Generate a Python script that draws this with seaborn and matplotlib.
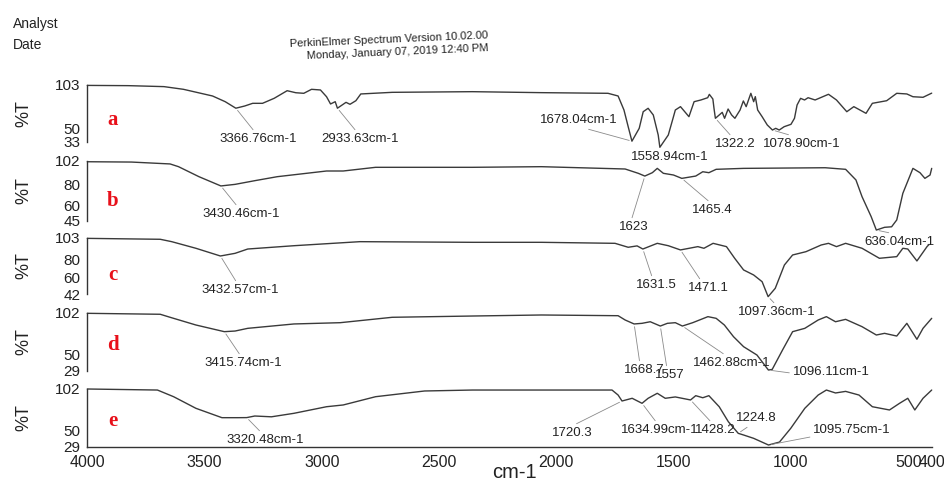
import matplotlib
matplotlib.use("Agg")
import matplotlib.pyplot as plt
import pandas as pd
import seaborn as sns

sns.set_style("white")
plt.rcParams["font.family"] = ["Liberation Sans", "DejaVu Sans"]

W, H = 945, 488

# ---- FT-IR spectra: wavenumber (cm-1) and transmittance (%T) ----
wn_a = [4000, 3825, 3673, 3590, 3466, 3412, 3366.76, 3329, 3295, 3253, 3203, 3148, 3111, 3077,
        3044, 3006, 2980, 2963, 2943, 2933.63, 2897, 2880, 2855, 2834, 2700, 2358, 2064, 1780,
        1737, 1712, 1694, 1678.04, 1647, 1630, 1609, 1587, 1566, 1558.94, 1523, 1501, 1493, 1471,
        1435, 1413, 1384, 1355, 1348, 1333, 1328, 1322.2, 1293, 1283, 1268, 1253, 1239, 1217,
        1203, 1191, 1181, 1171, 1159, 1152, 1142, 1123, 1101, 1078.90, 1065, 1050, 1029, 1000,
        985, 974, 959, 942, 927, 897, 840, 806, 762, 732, 680, 653, 592, 549, 506, 480, 437, 400]
t_a = [102.5, 102.2, 101.0, 97.7, 89.5, 82.5, 74.5, 77.2, 80.5, 80.5, 86.7, 96.0, 93.5, 92.8,
       97.7, 96.9, 88.6, 79.7, 82.5, 74.5, 81.7, 79.3, 83.7, 92.0, 94.0, 94.8, 93.6, 92.8,
       89.5, 72.3, 51.8, 34.0, 49.8, 70.2, 74.4, 66.2, 41.6, 26.5, 41.6, 64.0, 72.3, 76.4,
       64.1, 82.5, 84.6, 87.4, 91.5, 85.8, 74.0, 62.1, 69.4, 62.1, 73.5, 66.2, 62.1, 72.3,
       83.4, 76.4, 84.6, 92.8, 82.5, 88.7, 72.3, 64.1, 53.9, 47.7, 49.8, 47.7, 51.8, 54.7,
       62.1, 78.4, 86.6, 84.6, 87.4, 84.6, 91.6, 84.6, 70.2, 76.4, 68.2, 80.5, 83.7, 92.8,
       92.0, 88.6, 87.9, 93.0]

wn_b = [4000, 3812, 3647, 3611, 3524, 3430.46, 3370, 3286, 3190, 2980, 2909, 2771, 2358, 2064,
        1707, 1651, 1623, 1591, 1570, 1544, 1501, 1465.4, 1406, 1376, 1350, 1319, 1202, 854,
        767, 723, 697, 658, 636.04, 601, 571, 549, 523, 480, 450, 429, 407, 400]
t_b = [101.3, 101.0, 99.2, 96.6, 87.1, 78.3, 79.8, 83.3, 87.1, 92.5, 92.5, 96.0, 96.0, 96.6,
       94.4, 90.3, 87.7, 90.9, 95.0, 90.3, 88.7, 85.5, 87.7, 91.8, 90.9, 94.1, 95.0, 95.6,
       94.1, 84.0, 68.1, 49.1, 36.4, 39.0, 39.5, 46.0, 71.3, 95.0, 90.9, 85.5, 88.7, 95.0]

wn_c = [4000, 3689, 3640, 3537, 3432.57, 3370, 3316, 3119, 2838, 2358, 2064, 1750, 1694, 1656,
        1631.5, 1570, 1523, 1471.1, 1397, 1371, 1332, 1275, 1240, 1202, 1159, 1123, 1097.36,
        1067, 1028, 993, 936, 871, 840, 806, 767, 697, 623, 549, 523, 502, 463, 420, 411]
t_c = [102.6, 101.6, 99.0, 91.8, 83.4, 86.3, 91.0, 94.6, 99.0, 98.3, 98.3, 97.2, 92.9, 94.4,
       91.0, 97.2, 94.6, 90.0, 93.6, 91.8, 97.2, 93.6, 80.9, 68.2, 62.7, 55.4, 39.1,
       48.2, 73.6, 84.5, 88.1, 95.4, 97.2, 93.6, 97.2, 91.8, 80.9, 82.7, 91.8, 91.0, 78.0, 93.6, 96.0]

wn_d = [4000, 3689, 3647, 3537, 3415.74, 3370, 3316, 3119, 2922, 2700, 2358, 2064, 1737, 1707,
        1668.7, 1635, 1600, 1557, 1527, 1493, 1462.88, 1419, 1354, 1319, 1284, 1245, 1202, 1145,
        1096.11, 1080, 1036, 993, 941, 884, 849, 810, 767, 697, 636, 601, 549, 506, 463, 437, 400]
t_d = [101.6, 100.4, 96.6, 86.9, 78.5, 79.3, 82.7, 88.2, 89.8, 96.6, 98.2, 99.5, 98.6, 93.2,
       88.2, 89.0, 91.0, 85.6, 89.0, 89.8, 85.6, 89.8, 97.4, 95.3, 86.9, 72.2, 59.6, 49.1,
       30.2, 31.0, 55.4, 78.5, 82.7, 93.2, 97.4, 91.0, 94.0, 84.8, 74.3, 76.4, 73.0, 89.0, 68.9, 82.7, 95.3]

wn_e = [4000, 3701, 3632, 3537, 3426, 3358, 3320.48, 3286, 3215, 3119, 2980, 2909, 2771, 2562,
        2358, 1763, 1737, 1720.3, 1677, 1634.99, 1609, 1570, 1536, 1493, 1428.2, 1406, 1376, 1350,
        1306, 1267, 1224.8, 1202, 1159, 1095.75, 1049, 1001, 941, 884, 849, 810, 767, 710, 653,
        580, 537, 502, 472, 437, 400]
t_e = [102.0, 100.7, 92.3, 77.7, 65.9, 65.9, 66.0, 68.0, 67.0, 71.4, 79.7, 81.9, 92.3, 99.5,
       100.7, 100.7, 94.4, 86.9, 90.3, 84.0, 90.3, 96.6, 90.3, 92.0, 88.2, 93.6, 91.0, 93.6,
       79.7, 60.8, 46.2, 44.1, 39.9, 31.5, 35.2, 52.5, 77.7, 94.4, 100.7, 97.0, 99.0, 94.4, 79.7,
       75.6, 84.0, 90.3, 75.6, 90.3, 100.7]

# ---- marked bands ----
peaks_a = [3366.76, 2933.63, 1678.04, 1558.94, 1322.2, 1078.90]
texts_a = ["3366.76cm-1", "2933.63cm-1", "1678.04cm-1", "1558.94cm-1", "1322.2", "1078.90cm-1"]
peaks_b = [3430.46, 1623, 1465.4, 636.04]
texts_b = ["3430.46cm-1", "1623", "1465.4", "636.04cm-1"]
peaks_c = [3432.57, 1631.5, 1471.1, 1097.36]
texts_c = ["3432.57cm-1", "1631.5", "1471.1", "1097.36cm-1"]
peaks_d = [3415.74, 1668.7, 1557, 1462.88, 1096.11]
texts_d = ["3415.74cm-1", "1668.7", "1557", "1462.88cm-1", "1096.11cm-1"]
peaks_e = [3320.48, 1720.3, 1634.99, 1428.2, 1224.8, 1095.75]
texts_e = ["3320.48cm-1", "1720.3", "1634.99cm-1", "1428.2", "1224.8", "1095.75cm-1"]

yticks_a = [33, 50, 103]
yticks_b = [45, 60, 80, 102]
yticks_c = [42, 60, 80, 103]
yticks_d = [29, 50, 102]
yticks_e = [29, 50, 102]

panel_names = ["a", "b", "c", "d", "e"]
xticks = [4000, 3500, 3000, 2500, 2000, 1500, 1000, 500, 400]

# ---- layout (figure pixels, measured from the top-left corner) ----
X_LEFT, X_RIGHT = 87.3, 931.7
panel_rows = [(85, 142), (161, 221), (238, 294), (313, 371), (389, 447)]
letter_y = [120, 201, 275, 345, 421]
# text centre x, text centre y, leader attachment on the text box (None = no leader)
label_layout = [
    [(258, 139, (0.47, 1.0)), (360, 139, (0.47, 1.0)), (579, 120, (0.47, 0.0)),
     (670, 157, None), (735, 144, (0.45, 1.0)), (802, 144, (0.47, 1.0))],
    [(241, 214, (0.47, 1.0)), (634, 227, (0.4, 1.0)), (712, 210, (0.5, 1.0)),
     (899, 242, (0.57, 1.0))],
    [(240, 290, (0.47, 1.0)), (656, 285, (0.42, 1.0)), (708, 288, (0.35, 1.0)),
     (777, 312, (0.5, 1.0))],
    [(243, 363, (0.48, 1.0)), (644, 370, (0.4, 1.0)), (670, 375, (0.4, 1.0)),
     (732, 363, (0.45, 1.0)), (831, 372, (0.46, 0.0))],
    [(265, 440, (0.47, 1.0)), (572, 433, (0.45, 1.0)), (660, 430, (0.47, 1.0)),
     (715, 430, (0.45, 1.0)), (756, 418, (0.4, 0.0)), (852, 430, (0.03, 0.0))],
]

spectra = [(wn_a, t_a), (wn_b, t_b), (wn_c, t_c), (wn_d, t_d), (wn_e, t_e)]
peaks = [(peaks_a, texts_a), (peaks_b, texts_b), (peaks_c, texts_c),
         (peaks_d, texts_d), (peaks_e, texts_e)]
yticks = [yticks_a, yticks_b, yticks_c, yticks_d, yticks_e]

INK = "#333333"
fig = plt.figure(figsize=(W / 100, H / 100), dpi=100)

for k, ((wn, t), (pk, txt), yt, (top, bot)) in enumerate(zip(spectra, peaks, yticks, panel_rows)):
    ax = fig.add_axes([X_LEFT / W, 1 - bot / H, (X_RIGHT - X_LEFT) / W, (bot - top) / H])
    ax.patch.set_alpha(0)
    df = pd.DataFrame({"wavenumber": wn, "T": t})
    sns.lineplot(data=df, x="wavenumber", y="T", ax=ax, sort=False, estimator=None,
                 color="#3a3a3a", linewidth=1.0)
    ax.lines[-1].set_clip_on(False)
    ax.set_xlim(4000, 400)
    ax.set_ylim(min(yt), max(yt))
    ax.set_yticks(yt)
    ax.set_ylabel("")
    ax.set_xlabel("")
    for side in ["top", "right"]:
        ax.spines[side].set_visible(False)
    ax.spines["left"].set_color(INK)
    ax.spines["left"].set_linewidth(1.0)
    ax.tick_params(axis="y", direction="out", length=4, width=1.0, color=INK,
                   labelsize=11, pad=1, labelcolor="#222222")
    if k < 4:
        ax.spines["bottom"].set_visible(False)
        ax.set_xticks([])
    else:
        ax.spines["bottom"].set_color(INK)
        ax.spines["bottom"].set_linewidth(1.0)
        ax.set_xticks(xticks)
        ax.set_xticklabels([str(v) for v in xticks])
        ax.tick_params(axis="x", direction="out", length=4, width=1.0, color=INK,
                       labelsize=11.5, pad=2, labelcolor="#222222")

    # band labels with thin leader lines
    for p, s, (tx, ty, rel) in zip(pk, txt, label_layout[k]):
        i = wn.index(p)
        arrow = None
        if rel is not None:
            arrow = dict(arrowstyle="-", color="#8a8a8a", lw=0.6, relpos=rel,
                         shrinkA=0, shrinkB=2)
        ax.annotate(s, xy=(p, t[i]), xytext=(tx, H - ty), textcoords="figure pixels",
                    ha="center", va="center", fontsize=9.5, color="#222222",
                    arrowprops=arrow, annotation_clip=False)

    # axis title and sample letter
    fig.text(24 / W, 1 - (top + bot) / 2 / H, "%T", rotation=90, ha="center", va="center",
             fontsize=13, color="#222222")
    fig.text(113 / W, 1 - letter_y[k] / H, panel_names[k], ha="center", va="center",
             fontsize=15, fontweight="bold", color="#e8101a",
             family=["Liberation Serif", "DejaVu Serif"])

fig.text(514 / W, 1 - 472 / H, "cm-1", ha="center", va="center", fontsize=14.5, color="#222222")

# instrument header
fig.text(13 / W, 1 - 24 / H, "Analyst", ha="left", va="center", fontsize=10, color="#222222")
fig.text(13 / W, 1 - 45 / H, "Date", ha="left", va="center", fontsize=10, color="#222222")
fig.text(488 / W, 1 - 38 / H, "PerkinElmer Spectrum Version 10.02.00", ha="right",
         va="baseline", fontsize=8, rotation=2.5, rotation_mode="anchor", color="#222222")
fig.text(488 / W, 1 - 51 / H, "Monday, January 07, 2019 12:40 PM", ha="right",
         va="baseline", fontsize=8, rotation=2.5, rotation_mode="anchor", color="#222222")

fig.savefig("out.png", dpi=100, facecolor="white")
